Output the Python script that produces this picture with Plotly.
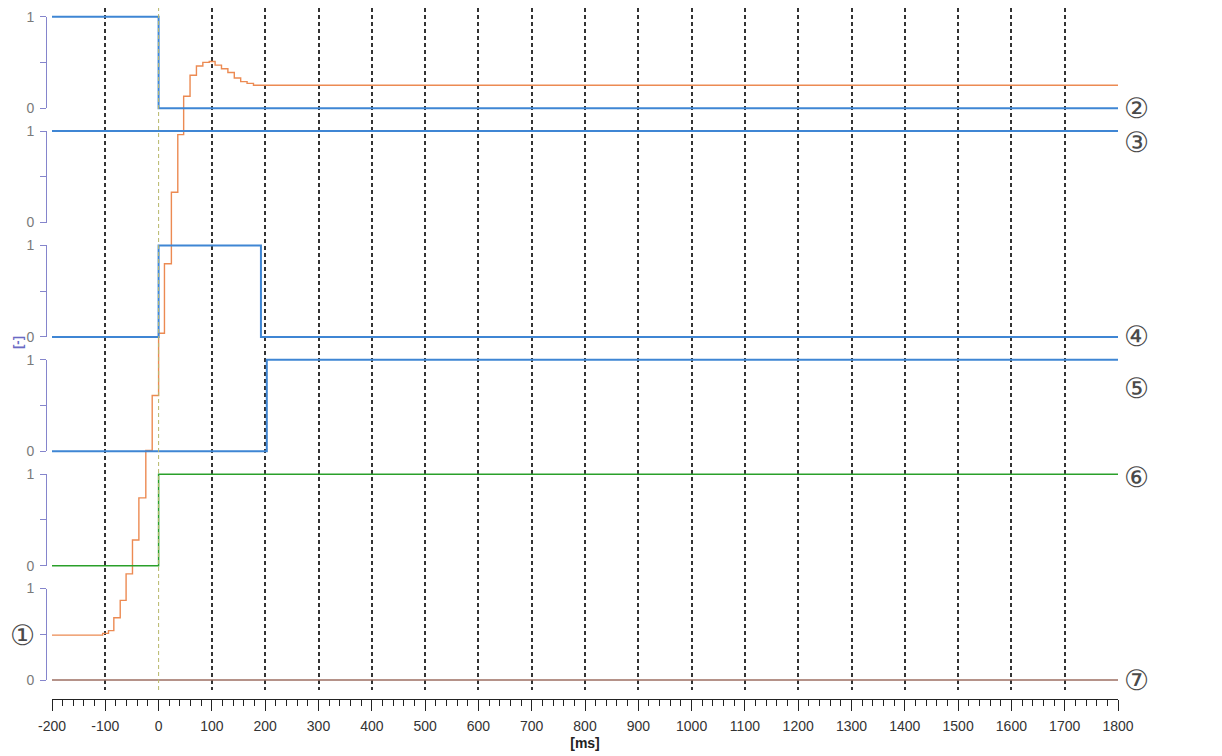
import plotly.graph_objects as go

# ---------------- data ----------------
x_tick_vals = list(range(-200, 1801, 100))
x_tick_text = [str(v) for v in x_tick_vals]
trigger_t = 0

lane_pitch = 1.25          # distance between lane baselines, in signal units
lane_count = 6             # lane 0 = bottom (signals 1 and 7) ... lane 5 = top (signal 2)

# signal 1 (orange, lane 0) - sampled steps
s1_t = [-200, -105, -94, -84, -72, -61, -49, -37, -24, -12, 0, 11, 24, 36, 47, 59,
        71, 83, 95, 106, 118, 130, 142, 154, 166, 178, 1800]
s1_v = [0.49, 0.51, 0.54, 0.68, 0.87, 1.16, 1.53, 1.99, 2.51, 3.11, 3.79, 4.55, 5.33,
        5.96, 6.38, 6.61, 6.71, 6.75, 6.76, 6.72, 6.68, 6.64, 6.58, 6.54, 6.52, 6.50, 6.50]
# signal 2 (lane 5)
s2_t = [-200, 0, 1800]
s2_v = [1, 0, 0]
# signal 3 (lane 4)
s3_t = [-200, 1800]
s3_v = [1, 1]
# signal 4 (lane 3)
s4_t = [-200, 0, 192, 1800]
s4_v = [0, 1, 0, 0]
# signal 5 (lane 2)
s5_t = [-200, 203, 1800]
s5_v = [0, 1, 1]
# signal 6 (lane 1)
s6_t = [-200, 0, 1800]
s6_v = [0, 1, 1]
# signal 7 (lane 0)
s7_t = [-200, 1800]
s7_v = [0, 0]

signals = [
    # name, t, v, lane, color, width
    ("1", s1_t, s1_v, 0, "#ec8a52", 1.4),
    ("7", s7_t, s7_v, 0, "#9c6e62", 1.5),
    ("6", s6_t, s6_v, 1, "#2aa02a", 1.5),
    ("5", s5_t, s5_v, 2, "#3f86d4", 2),
    ("4", s4_t, s4_v, 3, "#3f86d4", 2),
    ("3", s3_t, s3_v, 4, "#3f86d4", 2),
    ("2", s2_t, s2_v, 5, "#3f86d4", 2),
]

# circled labels: text, side, lane, value in lane units
label_text = ["①", "②", "③", "④", "⑤", "⑥", "⑦"]
label_side = ["left", "right", "right", "right", "right", "right", "right"]
label_lane = [0, 5, 4, 3, 2, 1, 0]
label_val = [0.49, 0.0, 0.87, 0.0, 0.69, 0.96, 0.0]

# ---------------- layout geometry (pixels, in screenshot coordinates) ----------------
OFF = 8                              # page body margin
W, H = 1222 - OFF, 756 - OFF
left_px, right_px = 46, 1118         # y-axis line, end of time axis
axis_px = 699                        # time-axis line
top_px = 8                           # top of plot area
ML, MR = left_px - OFF, 1222 - right_px
MT, MB = top_px - OFF, 756 - axis_px
plot_h = H - MT - MB
paper_w = W - ML - MR
px_zero0 = 680                       # lane 0 baseline
px_unit = 91.5                       # pixels per signal unit
px_grid_bottom = 690                 # bottom end of grid lines


def py_to_paper(py):
    return (axis_px - py) / plot_h


def px_to_paper(px):
    return (px - left_px) / paper_w


y_lo = (px_zero0 - px_grid_bottom) / px_unit
y_hi = (px_zero0 - top_px) / px_unit

font_fam = "Liberation Sans, Arial, sans-serif"

fig = go.Figure()

# signals on main axis (offset by lane)
for name, t, v, lane, color, width in signals:
    fig.add_trace(go.Scatter(
        x=t, y=[val + lane * lane_pitch for val in v],
        mode="lines", line=dict(color=color, width=width, shape="hv"),
        name=name, showlegend=False, hoverinfo="x+y"))

# lane axes (brackets with 0 / 1 labels)
axis_color = "#8585cc"
for k in range(lane_count):
    base_px = px_zero0 - k * lane_pitch * px_unit
    one_px = base_px - px_unit
    fig.add_trace(go.Scatter(
        x=[x_tick_vals[0], x_tick_vals[-1]], y=[0, 1], xaxis="x2", yaxis=f"y{k + 2}",
        mode="lines", line=dict(width=0), opacity=0, hoverinfo="skip", showlegend=False))
    fig.layout[f"yaxis{k + 2}"] = dict(
        domain=[py_to_paper(base_px), py_to_paper(one_px)],
        range=[0, 1], anchor="free", position=0, automargin=False,
        showline=True, linecolor=axis_color, linewidth=1,
        ticks="outside", ticklen=6, tickcolor=axis_color, tickwidth=1,
        ticklabelstandoff=3,
        tickvals=[0, 0.5, 1], ticktext=["0", "", "1"],
        tickfont=dict(family=font_fam, size=14, color="#7a7a7a"),
        showgrid=False, zeroline=False, fixedrange=True)

fig.update_layout(
    width=W, height=H,
    margin=dict(l=ML, r=MR, t=MT, b=MB, pad=0, autoexpand=False),
    paper_bgcolor="white", plot_bgcolor="rgba(0,0,0,0)",
    xaxis=dict(
        domain=[px_to_paper(52), 1], range=[x_tick_vals[0], x_tick_vals[-1]],
        anchor="free", position=0, automargin=False,
        tickvals=x_tick_vals, ticktext=x_tick_text,
        ticks="outside", ticklen=11, tickcolor="#222", tickwidth=1,
        ticklabelstandoff=3,
        minor=dict(dtick=20, tick0=-200, ticks="outside", ticklen=6, tickcolor="#222",
                   showgrid=False),
        showline=True, linecolor="#222", linewidth=1,
        showgrid=True, gridcolor="#333333", gridwidth=1.5, griddash="4px,3px",
        zeroline=True, zerolinecolor="rgba(0,0,0,0)", zerolinewidth=1,
        tickfont=dict(family=font_fam, size=14, color="#333"),
        title=dict(text="<b>[ms]</b>", standoff=5,
                   font=dict(family=font_fam, size=14, color="#222")),
        fixedrange=True),
    xaxis2=dict(overlaying="x", range=[x_tick_vals[0], x_tick_vals[-1]], visible=False,
                anchor="free", position=0, fixedrange=True),
    yaxis=dict(domain=[py_to_paper(px_grid_bottom), 1], range=[y_lo, y_hi],
               visible=False, fixedrange=True, automargin=False),
)

# trigger line at t = 0
fig.add_shape(type="line", xref="x", yref="y domain", x0=trigger_t, x1=trigger_t, y0=0, y1=1,
              line=dict(color="#b8b86a", width=1, dash="4px,3px"))

# circled signal numbers
for txt, side, lane, val in zip(label_text, label_side, label_lane, label_val):
    xpos = px_to_paper(1136) if side == "right" else px_to_paper(22)
    fig.add_annotation(text=txt, xref="paper", yref="y", x=xpos, y=val + lane * lane_pitch,
                       showarrow=False, xanchor="center", yanchor="middle", borderpad=0,
                       font=dict(family="DejaVu Sans, sans-serif", size=28, color="#4a4a4a"))

# unit label of the y scales
fig.add_annotation(text="<b>[-]</b>", xref="paper", yref="paper", x=px_to_paper(17),
                   y=py_to_paper(343), textangle=-90, showarrow=False,
                   xanchor="center", yanchor="middle", borderpad=0,
                   font=dict(family=font_fam, size=13, color="#6a6ac4"))

fig.write_html("out.html")
